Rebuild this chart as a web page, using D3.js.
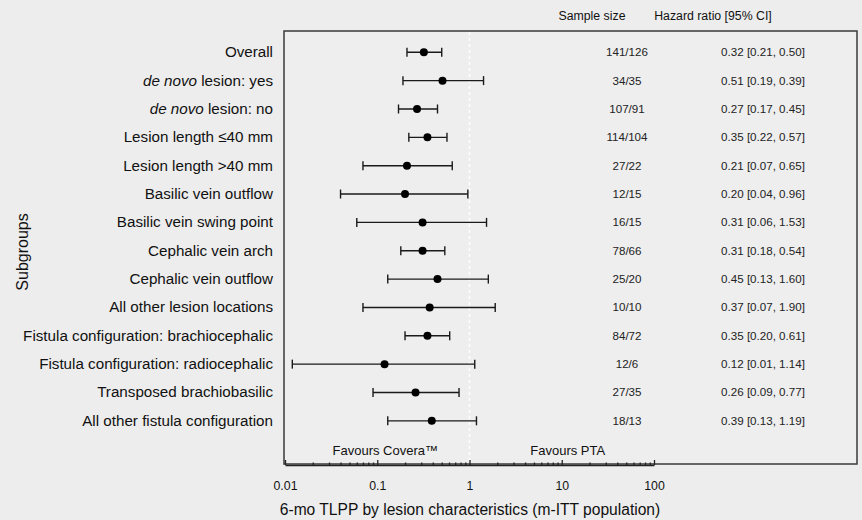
<!DOCTYPE html>
<html>
<head>
<meta charset="utf-8">
<script src="https://cdn.jsdelivr.net/npm/d3@7/dist/d3.min.js"></script>
<style>
  body { margin: 0; background: #ededed; }
  svg { display: block; font-family: 'Liberation Sans', Arial, sans-serif; }
</style>
</head>
<body>
<svg id="chart" width="862" height="520"></svg>
<script>
// subgroup rows, top to bottom
const subgroups = [
  'Overall',
  'de novo lesion: yes',
  'de novo lesion: no',
  'Lesion length ≤40 mm',
  'Lesion length >40 mm',
  'Basilic vein outflow',
  'Basilic vein swing point',
  'Cephalic vein arch',
  'Cephalic vein outflow',
  'All other lesion locations',
  'Fistula configuration: brachiocephalic',
  'Fistula configuration: radiocephalic',
  'Transposed brachiobasilic',
  'All other fistula configuration'
]
// hazard ratio + CI as drawn
const hr = [0.32, 0.51, 0.27, 0.35, 0.21, 0.20, 0.31, 0.31, 0.45, 0.37, 0.35, 0.12, 0.26, 0.39]
const ciLow = [0.21, 0.19, 0.17, 0.22, 0.07, 0.04, 0.06, 0.18, 0.13, 0.07, 0.20, 0.012, 0.09, 0.13]
const ciHigh = [0.50, 1.42, 0.45, 0.57, 0.65, 0.96, 1.53, 0.54, 1.60, 1.90, 0.61, 1.14, 0.77, 1.19]
// text columns
const sampleSize = ['141/126', '34/35', '107/91', '114/104', '27/22', '12/15', '16/15', '78/66', '25/20', '10/10', '84/72', '12/6', '27/35', '18/13']
const hrText = ['0.32 [0.21, 0.50]', '0.51 [0.19, 0.39]', '0.27 [0.17, 0.45]', '0.35 [0.22, 0.57]', '0.21 [0.07, 0.65]',
  '0.20 [0.04, 0.96]', '0.31 [0.06, 1.53]', '0.31 [0.18, 0.54]', '0.45 [0.13, 1.60]', '0.37 [0.07, 1.90]',
  '0.35 [0.20, 0.61]', '0.12 [0.01, 1.14]', '0.26 [0.09, 0.77]', '0.39 [0.13, 1.19]']
const majorTicks = [0.01, 0.1, 1, 10, 100]

const rows = subgroups.map((s, i) => ({ label: s, hr: hr[i], lo: ciLow[i], hi: ciHigh[i], n: sampleSize[i], txt: hrText[i] }))

const svg = d3.select('#chart')
const box = { left: 284, top: 31, right: 857, bottom: 464 }

const x = d3.scaleLog().domain([0.01, 100]).range([285, 654])
const y = d3.scaleBand().domain(subgroups).range([38.1, 435]).padding(0)
const cy = d => y(d.label) + y.bandwidth() / 2

// frame
svg.append('rect')
  .attr('x', box.left).attr('y', box.top)
  .attr('width', box.right - box.left).attr('height', box.bottom - box.top)
  .attr('fill', '#eeeeee').attr('stroke', '#3a3a3a').attr('stroke-width', 1.5)

// line of no effect
svg.append('line')
  .attr('x1', x(1)).attr('x2', x(1))
  .attr('y1', box.top + 1).attr('y2', box.bottom - 1)
  .attr('stroke', '#ffffff').attr('stroke-width', 1.5)
  .attr('stroke-dasharray', '3,3')

// headers
svg.append('text').attr('x', 592).attr('y', 20).attr('text-anchor', 'middle')
  .attr('font-size', 12.3).attr('fill', '#111').text('Sample size')
svg.append('text').attr('x', 713).attr('y', 20).attr('text-anchor', 'middle')
  .attr('font-size', 12.3).attr('fill', '#111').text('Hazard ratio [95% CI]')

// subgroup labels
const labels = svg.selectAll('.lab').data(rows).enter().append('text')
  .attr('class', 'lab')
  .attr('x', 273).attr('y', d => cy(d) + 5)
  .attr('text-anchor', 'end').attr('font-size', 15.2).attr('fill', '#111')
labels.each(function (d) {
  const t = d3.select(this)
  if (d.label.startsWith('de novo')) {
    t.append('tspan').attr('font-style', 'italic').text('de novo')
    t.append('tspan').text(d.label.slice(7))
  } else {
    t.text(d.label)
  }
})

svg.append('text')
  .attr('transform', 'translate(28,252) rotate(-90)')
  .attr('text-anchor', 'middle').attr('font-size', 16).attr('fill', '#111')
  .text('Subgroups')

// error bars
const g = svg.append('g').attr('stroke', '#1a1a1a').attr('stroke-width', 1.4)
g.selectAll('.ci').data(rows).enter().append('line')
  .attr('x1', d => x(d.lo)).attr('x2', d => x(d.hi))
  .attr('y1', cy).attr('y2', cy)
g.selectAll('.capl').data(rows).enter().append('line')
  .attr('x1', d => x(d.lo)).attr('x2', d => x(d.lo))
  .attr('y1', d => cy(d) - 4.5).attr('y2', d => cy(d) + 4.5)
g.selectAll('.caph').data(rows).enter().append('line')
  .attr('x1', d => x(d.hi)).attr('x2', d => x(d.hi))
  .attr('y1', d => cy(d) - 4.5).attr('y2', d => cy(d) + 4.5)
svg.selectAll('.pt').data(rows).enter().append('circle')
  .attr('cx', d => x(d.hr)).attr('cy', cy).attr('r', 4)
  .attr('fill', '#000')

// text columns
svg.selectAll('.n').data(rows).enter().append('text')
  .attr('x', 627).attr('y', d => cy(d) + 4)
  .attr('text-anchor', 'middle').attr('font-size', 11.6).attr('fill', '#222')
  .text(d => d.n)
svg.selectAll('.hrt').data(rows).enter().append('text')
  .attr('x', 763).attr('y', d => cy(d) + 4)
  .attr('text-anchor', 'middle').attr('font-size', 11.6).attr('fill', '#222')
  .text(d => d.txt)

// favours labels
svg.append('text').attr('x', x(0.1) + 8).attr('y', 455).attr('text-anchor', 'middle')
  .attr('font-size', 13).attr('fill', '#111').text('Favours Covera™')
svg.append('text').attr('x', x(10) + 6).attr('y', 455).attr('text-anchor', 'middle')
  .attr('font-size', 13).attr('fill', '#111').text('Favours PTA')

// log axis, ticks pointing inward
const minorTicks = []
for (let e = -2; e < 2; e++) for (let k = 2; k <= 9; k++) minorTicks.push(k * Math.pow(10, e))

const axisG = svg.append('g').attr('transform', 'translate(0,465)')
axisG.append('g')
  .call(d3.axisBottom(x).tickValues(minorTicks).tickSize(-2.5).tickSizeOuter(0).tickFormat(''))
  .call(a => a.select('.domain').remove())
axisG.append('g')
  .call(d3.axisBottom(x).tickValues(majorTicks).tickSize(-5).tickSizeOuter(0).tickPadding(16)
    .tickFormat(d3.format('~g')))
  .call(a => a.selectAll('text').attr('font-size', 12.3).attr('fill', '#111').attr('font-family', null))
axisG.selectAll('line').attr('stroke', '#222').attr('stroke-width', 1.3)
axisG.select('.domain').attr('stroke', '#222').attr('stroke-width', 1.5)

svg.append('text').attr('x', 470).attr('y', 515).attr('text-anchor', 'middle')
  .attr('font-size', 15.6).attr('fill', '#111')
  .text('6-mo TLPP by lesion characteristics (m-ITT population)')
</script>
</body>
</html>
